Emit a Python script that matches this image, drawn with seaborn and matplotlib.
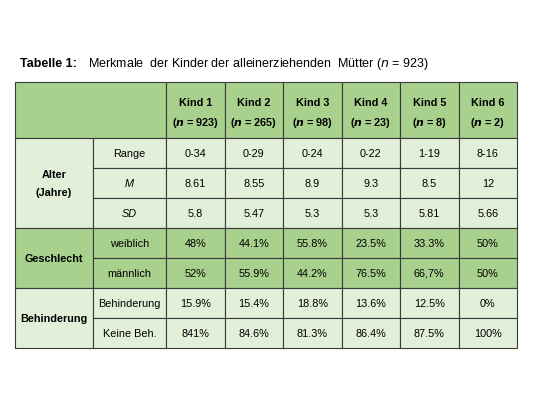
import matplotlib
matplotlib.use("Agg")
import matplotlib.pyplot as plt
import seaborn as sns
from matplotlib.patches import Rectangle

sns.set_theme(style="white")
plt.rcParams['font.family'] = ['Liberation Sans', 'DejaVu Sans']
plt.rcParams['text.color'] = 'black'

kinder = ["Kind 1", "Kind 2", "Kind 3", "Kind 4", "Kind 5", "Kind 6"]
n_vals = ["923", "265", "98", "23", "8", "2"]
range_vals = ["0-34", "0-29", "0-24", "0-22", "1-19", "8-16"]
m_vals = ["8.61", "8.55", "8.9", "9.3", "8.5", "12"]
sd_vals = ["5.8", "5.47", "5.3", "5.3", "5.81", "5.66"]
weiblich = ["48%", "44.1%", "55.8%", "23.5%", "33.3%", "50%"]
maennlich = ["52%", "55.9%", "44.2%", "76.5%", "66,7%", "50%"]
behinderung = ["15.9%", "15.4%", "18.8%", "13.6%", "12.5%", "0%"]
keine = ["841%", "84.6%", "81.3%", "86.4%", "87.5%", "100%"]

fig = plt.figure(figsize=(5.41, 4.06), dpi=100)
ax = fig.add_axes([0, 0, 1, 1])
ax.set_xlim(0, 541); ax.set_ylim(406, 0); ax.axis("off")

dark = "#A9D18E"; light = "#E2EFD9"; edge = "#3a3a3a"
xs = [15, 93, 166] + [166 + 58.5 * (i + 1) for i in range(6)]
ys = [83, 139, 169, 199, 229, 259, 289, 319, 349]

def cell(x0, x1, y0, y1, color):
    ax.add_patch(Rectangle((x0, y0), x1 - x0, y1 - y0, facecolor=color, edgecolor=edge, lw=0.8))

fs = 7.8
# header
cell(xs[0], xs[2], ys[0], ys[1], dark)
for i in range(6):
    cell(xs[i + 2], xs[i + 3], ys[0], ys[1], dark)
    cx = (xs[i + 2] + xs[i + 3]) / 2
    ax.text(cx, 103, kinder[i], ha="center", va="center", fontsize=fs, fontweight="bold")
    ax.text(cx, 123, f"($\\mathbfit{{n}}$ = {n_vals[i]})", ha="center", va="center", fontsize=fs, fontweight="bold")

groups = [("Alter\n(Jahre)", 1, 4, light, [("Range", range_vals, "normal"), ("M", m_vals, "italic"), ("SD", sd_vals, "italic")]),
          ("Geschlecht", 4, 6, dark, [("weiblich", weiblich, "normal"), ("männlich", maennlich, "normal")]),
          ("Behinderung", 6, 8, light, [("Behinderung", behinderung, "normal"), ("Keine Beh.", keine, "normal")])]
for label, r0, r1, col, rows in groups:
    cell(xs[0], xs[1], ys[r0], ys[r1], col)
    ax.text((xs[0] + xs[1]) / 2, (ys[r0] + ys[r1]) / 2, label, ha="center", va="center",
            fontsize=fs, fontweight="bold", linespacing=2.0)
    for k, (rl, vals, style) in enumerate(rows):
        y0, y1 = ys[r0 + k], ys[r0 + k + 1]
        cell(xs[1], xs[2], y0, y1, col)
        ax.text((xs[1] + xs[2]) / 2, (y0 + y1) / 2, rl, ha="center", va="center", fontsize=fs, style=style)
        for i, v in enumerate(vals):
            cell(xs[i + 2], xs[i + 3], y0, y1, col)
            ax.text((xs[i + 2] + xs[i + 3]) / 2, (y0 + y1) / 2, v, ha="center", va="center", fontsize=fs)

ax.text(20, 64, "Tabelle 1:", fontsize=9, fontweight="bold", va="center")
ax.text(88, 64, "Merkmale  der Kinder der alleinerziehenden  Mütter ($\\it{n}$ = 923)", fontsize=9, va="center")

fig.savefig("out.png", dpi=100)
